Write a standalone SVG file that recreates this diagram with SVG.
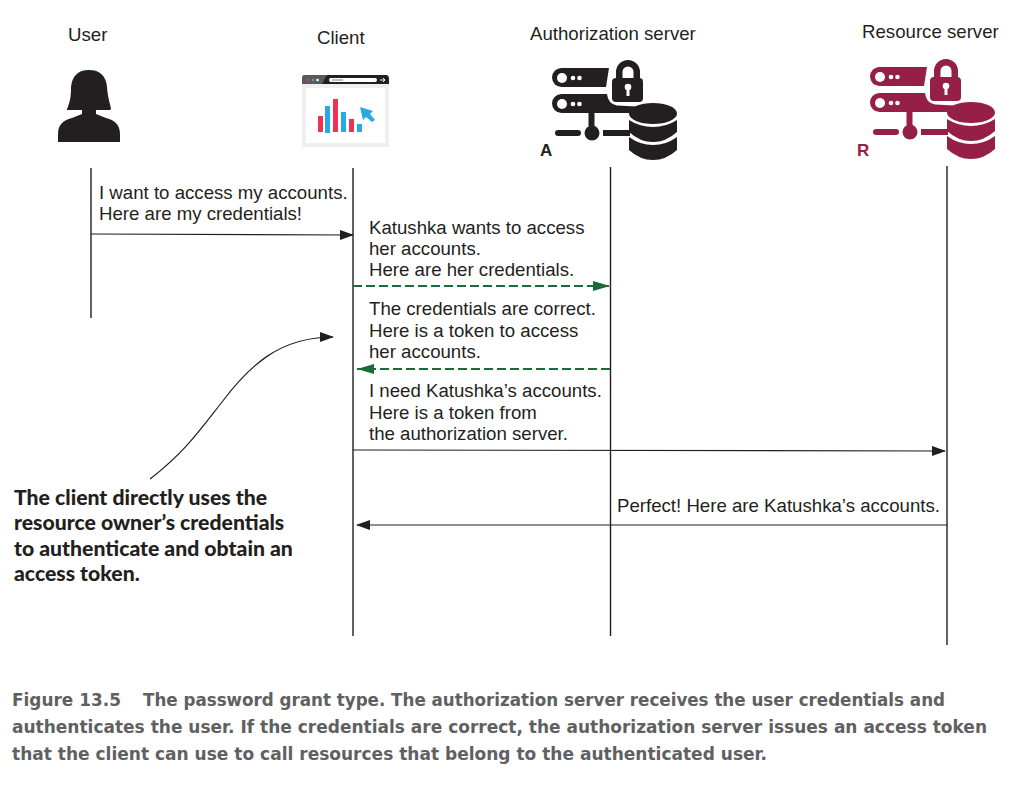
<svg xmlns="http://www.w3.org/2000/svg" width="1018" height="789" viewBox="0 0 1018 789">
<style>
.h{font:18.650px "Liberation Sans",Arial,sans-serif;fill:#231f20}
.m{font:18.650px "Liberation Sans",Arial,sans-serif;fill:#231f20}
.n{font:900 21.200px Lato,"Open Sans",sans-serif;fill:#231f20}
.c{font:700 17px "DejaVu Sans",sans-serif;fill:#5f6062}
.l{font:700 17px "Liberation Sans",Arial,sans-serif}
.life{stroke:#231f20;stroke-width:1.4;fill:none}
.a{stroke:#231f20;stroke-width:1.2;fill:none;marker-end:url(#k)}
.g{stroke:#1a6b3a;stroke-width:1.9;stroke-dasharray:9 4;fill:none;marker-end:url(#gh)}
</style>
<defs>
<marker id="k" markerUnits="userSpaceOnUse" markerWidth="14" markerHeight="10" refX="13" refY="5" orient="auto"><path d="M0 0L14 5L0 10Z" fill="#231f20"/></marker>
<marker id="gh" markerUnits="userSpaceOnUse" markerWidth="18" markerHeight="10" refX="17" refY="5" orient="auto"><path d="M0 0L17 5L0 10Z" fill="#1a6b3a"/></marker>
<g id="srv">
<path d="M561.500 68H609L606 87H561.500A9.500 9.500 0 0 1 561.500 68Z"/>
<path d="M561.500 94H607Q608 104 617 105.500L636 106.500L630 113H561.500A9.500 9.500 0 0 1 561.500 94Z"/>
<circle cx="562" cy="78" r="5" fill="#fff"/><circle cx="573" cy="78" r="2.300" fill="#fff"/><circle cx="579.500" cy="78" r="2.300" fill="#fff"/>
<circle cx="562" cy="104" r="5" fill="#fff"/><circle cx="573" cy="104" r="2.300" fill="#fff"/><circle cx="579.500" cy="104" r="2.300" fill="#fff"/>
<rect x="612" y="78" width="31" height="24" rx="4"/>
<path d="M616 80V72A12 12 0 0 1 640 72V80H633.500V72A5.500 5.500 0 0 0 622.500 72V80Z"/>
<circle cx="628" cy="87" r="3.300" fill="#fff"/><rect x="626.500" y="88" width="3" height="8" fill="#fff"/>
<rect x="588.500" y="112" width="6" height="14"/><circle cx="592" cy="133" r="7.500"/>
<rect x="555" y="130" width="26" height="6" rx="3"/><rect x="603" y="130" width="27" height="6"/>
<ellipse cx="653" cy="113.500" rx="24" ry="10.500"/>
<path d="M629 120Q640 127 653 127Q666 127 677 120V132Q666 142 653 142Q640 142 629 132Z"/>
<path d="M629 137Q640 145 653 145Q666 145 677 137V150Q666 160 653 160Q640 160 629 150Z"/>
</g>
</defs>
<rect width="1018" height="789" fill="#fff"/>

<g id="user">
<text class="h" x="68" y="41">User</text>
<path fill="#231f20" d="M89 70C100 70 106 76 107 87C108 100 110 102 111 109L110 110H96V114L106 118C113 120 120 123 120 134V142H58V134C58 123 65 120 72 118L82 114V110H67L67 109C70 102 71 97 71 87C72 76 78 70 89 70Z"/>
</g>

<g id="client">
<text class="h" x="317" y="44">Client</text>
<path fill="#231f20" d="M305 75H386Q389 75 389 79V84H302V79Q302 75 305 75Z"/>
<path fill="#5a5a5c" d="M305 75H327L322 84H302V79Q302 75 305 75Z"/>
<rect x="302" y="84" width="87" height="63" fill="#efefef"/>
<rect x="306" y="88" width="79" height="55" fill="#fff"/>
<circle cx="308" cy="80" r="1.300" fill="#ef3254"/><circle cx="313" cy="80" r="1.300" fill="#27aae1"/><circle cx="317.500" cy="80" r="1.300" fill="#fff"/>
<rect x="329" y="78" width="48" height="4" rx="2" fill="#fff"/>
<rect x="332" y="79.500" width="11" height="1" fill="#777"/>
<path stroke="#fff" stroke-width="1" fill="none" d="M380 80H385M383 78L385 80L383 82"/>
<g fill="#ef3254"><rect x="318" y="116" width="5" height="16"/><rect x="333" y="99" width="5" height="33"/><rect x="349" y="119" width="5" height="13"/></g>
<g fill="#27aae1"><rect x="325" y="106" width="5" height="27"/><rect x="341" y="112" width="5" height="20"/><rect x="357" y="124" width="5" height="8"/>
<path d="M360 107L373 111L370 114L375 120L372 122L366 117L363 120Z"/></g>
</g>

<g id="auth">
<text class="h" x="530" y="40">Authorization server</text>
<use href="#srv" fill="#231f20" stroke="none"/>
<text class="l" x="540" y="156" fill="#231f20">A</text>
</g>

<g id="resource">
<text class="h" x="862" y="38">Resource server</text>
<use href="#srv" transform="translate(318 -1)" fill="#951f46"/>
<text class="l" x="857" y="156" fill="#951f46">R</text>
</g>

<g id="connectors">
<path class="life" d="M91 168V318M353 168V636M610.500 167V636M947 166V645"/>
<path class="a" d="M91 234L353 235"/>
<path class="g" d="M353 286H610"/>
<path class="g" d="M610 369H357"/>
<path class="a" d="M353 450L945 451"/>
<path class="a" d="M947 525H357"/>
<path class="a" stroke-width="1" d="M150 479C185 452 200 430 222 402C250 365 280 337 333 337"/>
</g>

<g id="messages">
<text class="m" x="99" y="199">I want to access my accounts.</text>
<text class="m" x="99" y="220">Here are my credentials!</text>
<text class="m" x="369" y="234">Katushka wants to access</text>
<text class="m" x="369" y="255">her accounts.</text>
<text class="m" x="369" y="276">Here are her credentials.</text>
<text class="m" x="369" y="315">The credentials are correct.</text>
<text class="m" x="369" y="337">Here is a token to access</text>
<text class="m" x="369" y="358">her accounts.</text>
<text class="m" x="369" y="397">I need Katushka’s accounts.</text>
<text class="m" x="369" y="419">Here is a token from</text>
<text class="m" x="369" y="440">the authorization server.</text>
<text class="m" x="617" y="512">Perfect! Here are Katushka’s accounts.</text>
</g>

<g id="note">
<text class="n" x="14" y="505">The client directly uses the</text>
<text class="n" x="14" y="530">resource owner’s credentials</text>
<text class="n" x="14" y="556">to authenticate and obtain an</text>
<text class="n" x="14" y="581">access token.</text>
</g>

<g id="caption">
<text class="c" x="12" y="706" textLength="109" lengthAdjust="spacingAndGlyphs">Figure 13.5</text>
<text class="c" x="143" y="706" textLength="802" lengthAdjust="spacingAndGlyphs">The password grant type. The authorization server receives the user credentials and</text>
<text class="c" x="12" y="733" textLength="975" lengthAdjust="spacingAndGlyphs">authenticates the user. If the credentials are correct, the authorization server issues an access token</text>
<text class="c" x="12" y="760" textLength="755" lengthAdjust="spacingAndGlyphs">that the client can use to call resources that belong to the authenticated user.</text>
</g>
</svg>
